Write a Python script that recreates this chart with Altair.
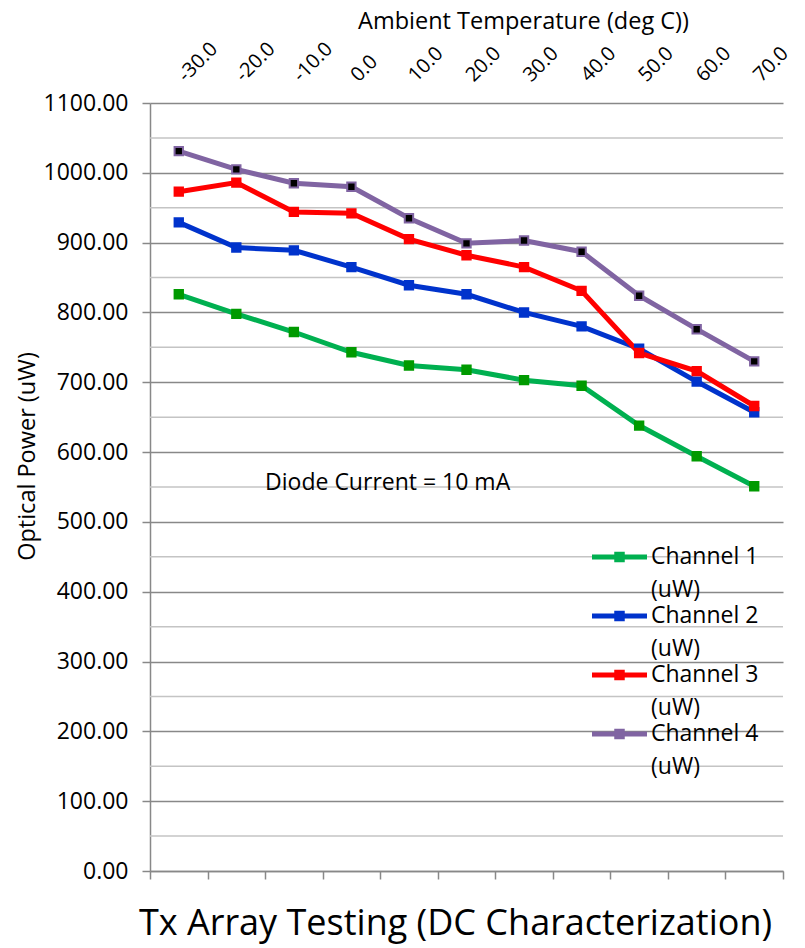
import altair as alt
import pandas as pd

FONT = "Open Sans"

temps = ["-30.0", "-20.0", "-10.0", "0.0", "10.0", "20.0", "30.0", "40.0", "50.0", "60.0", "70.0"]
ch1 = [826, 798, 772, 743, 724, 718, 703, 695, 638, 594, 551]
ch2 = [929, 893, 889, 865, 839, 826, 800, 780, 748, 701, 657]
ch3 = [973, 986, 944, 942, 905, 882, 865, 831, 742, 716, 666]
ch4 = [1031, 1005, 985, 980, 935, 899, 903, 887, 824, 776, 730]
series = ["Channel 1 (uW)", "Channel 2 (uW)", "Channel 3 (uW)", "Channel 4 (uW)"]
line_colors = ["#00B050", "#0033CC", "#FF0000", "#8064A2"]
marker_fills = ["#009A00", "#0033CC", "#FF0000", "#000000"]
marker_strokes = ["#009A00", "#0033CC", "#FF0000", "#8064A2"]
y_major = [0, 100, 200, 300, 400, 500, 600, 700, 800, 900, 1000, 1100]
y_minor = [50, 150, 250, 350, 450, 550, 650, 750, 850, 950, 1050]
note_text = ["Diode Current = 10 mA"]
note_temp = ["-10.0"]
note_power = [550]

rows = []
for name, vals in zip(series, [ch1, ch2, ch3, ch4]):
    for i, (t, v) in enumerate(zip(temps, vals)):
        rows.append({"temp": t, "idx": i, "power": v, "series": name})
df = pd.DataFrame(rows)

GRID_MAJOR = "#888888"
GRID_MINOR = "#C4C4C4"

xscale = alt.Scale(type="band", domain=temps, paddingInner=0, paddingOuter=0)
yscale = alt.Scale(domain=[0, 1100], nice=False)

legend_path = "M-2.5,0L2.5,0M-0.25,-0.25L0.25,-0.25L0.25,0.25L-0.25,0.25Z"


def yaxis():
    return alt.Axis(values=y_major, format=".2f", labelFont=FONT, labelFontSize=23,
                    labelColor="black", labelPadding=14, tickSize=8, tickColor=GRID_MAJOR,
                    tickWidth=1.5, domainColor=GRID_MAJOR, domainWidth=1.5,
                    grid=True, gridColor=GRID_MAJOR, gridWidth=1.5,
                    title="Optical Power (uW)", titleFont=FONT, titleFontSize=23.5,
                    titleFontWeight="normal", titleColor="black",
                    titleX=-123, titleY=353, titleAngle=270,
                    titleAlign="center", titleBaseline="middle")


minor = alt.Chart(pd.DataFrame({"v": y_minor})).mark_rule(
    color=GRID_MINOR, strokeWidth=1.5
).encode(y=alt.Y("v:Q", scale=yscale, axis=yaxis()))

lines = alt.Chart(df).mark_line(strokeWidth=5).encode(
    x=alt.X("temp:N", scale=xscale,
            axis=alt.Axis(orient="bottom", labels=False, ticks=True, tickBand="extent",
                          tickSize=8, tickColor=GRID_MAJOR, tickWidth=1.5,
                          domainColor=GRID_MAJOR, domainWidth=1.5, grid=False, title=None)),
    y=alt.Y("power:Q", scale=yscale, axis=yaxis()),
    color=alt.Color("series:N", scale=alt.Scale(domain=series, range=line_colors),
                    legend=alt.Legend(title=None, orient="none", legendX=456, legendY=440.5,
                                      symbolType=legend_path, symbolSize=484,
                                      symbolStrokeWidth=5, labelFont=FONT, labelFontSize=23,
                                      labelColor="black", labelLimit=0, labelOffset=18,
                                      rowPadding=0, padding=0,
                                      labelExpr="[slice(datum.label, 0, 9), slice(datum.label, 10)]")),
    order=alt.Order("idx:Q"),
)

points = alt.Chart(df).mark_point(shape="square", filled=True, size=70, strokeWidth=2, opacity=1).encode(
    x=alt.X("temp:N", scale=xscale, axis=None),
    y=alt.Y("power:Q", scale=yscale, axis=yaxis()),
    fill=alt.Fill("series:N", scale=alt.Scale(domain=series, range=marker_fills), legend=None),
    stroke=alt.Stroke("series:N", scale=alt.Scale(domain=series, range=marker_strokes), legend=None),
)

note_df = pd.DataFrame({"temp": note_temp, "power": note_power, "text": note_text})
note = alt.Chart(note_df).mark_text(
    font=FONT, fontSize=23, color="black", align="left", baseline="alphabetic", dy=3
).encode(
    x=alt.X("temp:N", scale=xscale, bandPosition=0,
            axis=alt.Axis(orient="top", labelAngle=315, labelAlign="left", labelBaseline="middle",
                          labelPadding=25, labelOffset=3, ticks=False, domain=False, grid=False,
                          labelFont=FONT, labelFontSize=20, labelColor="black",
                          title="Ambient Temperature (deg C))", titleFont=FONT, titleFontSize=23.5,
                          titleFontWeight="normal", titleColor="black",
                          titleX=373, titleY=-82, titleAlign="center", titleBaseline="middle")),
    y=alt.Y("power:Q", scale=yscale, axis=yaxis()),
    text="text:N",
)

chart = alt.layer(minor, lines, points, note).resolve_axis(x="independent").resolve_scale(
    color="independent", fill="independent", stroke="independent"
).properties(
    width=633, height=768,
    autosize=alt.AutoSizeParams(type="none"),
    padding={"left": 142, "top": 95, "right": 14, "bottom": 77},
    title=alt.TitleParams("Tx Array Testing (DC Characterization)", orient="bottom",
                          font=FONT, fontSize=36, fontWeight="normal", color="black",
                          frame="group", dx=-11, offset=24),
).configure_view(strokeWidth=0)
chart.config.style = {"guide-label": {"lineHeight": 33}}

chart.save("out.html", embed_options={"renderer": "svg", "actions": False})
